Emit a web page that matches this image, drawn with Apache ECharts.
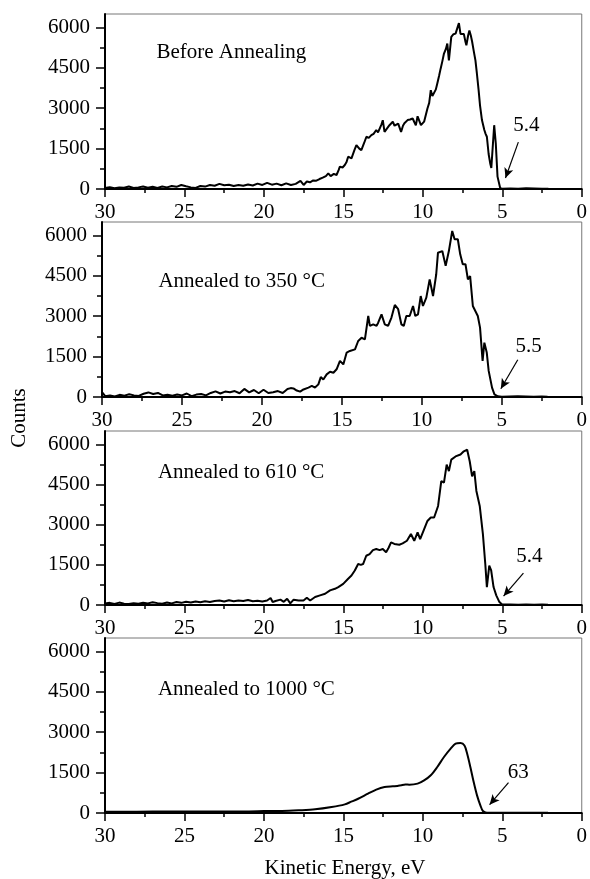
<!DOCTYPE html>
<html>
<head>
<meta charset="utf-8">
<script src="https://cdn.jsdelivr.net/npm/echarts@6/dist/echarts.min.js"></script>
<style>html,body{margin:0;padding:0;background:#fff;}#c{width:590px;height:879px;}</style>
</head>
<body>
<div id="c"></div>
<script>
// ---- data: [kinetic energy (eV), counts] ----
const beforeAnnealing = [[30,40],[29.7,70],[29.4,30],[29.1,60],[28.8,50],[28.5,90],[28.2,40],[27.9,60],[27.6,90],[27.3,50],[27.0,80],[26.7,40],[26.4,90],[26.1,60],[25.8,110],[25.5,80],[25.2,150],[24.9,100],[24.6,60],[24.3,40],[24.0,110],[23.7,90],[23.4,150],[23.1,120],[22.8,190],[22.5,140],[22.2,160],[21.9,110],[21.6,150],[21.3,120],[21.0,170],[20.7,130],[20.4,200],[20.1,150],[19.8,230],[19.5,160],[19.2,200],[18.9,140],[18.6,210],[18.3,150],[18.0,190],[17.7,300],[17.5,150],[17.3,280],[17.1,250],[16.9,320],[16.7,310],[16.5,370],[16.3,420],[16.1,480],[15.95,580],[15.8,480],[15.6,560],[15.43,520],[15.3,700],[15.22,830],[15.05,800],[14.91,890],[14.8,1000],[14.7,1200],[14.6,1150],[14.49,1140],[14.3,1450],[14.18,1630],[14.0,1500],[13.87,1445],[13.7,1700],[13.55,1940],[13.4,1900],[13.24,2000],[13.1,2050],[12.93,2190],[12.82,2100],[12.72,2060],[12.6,2400],[12.52,2556],[12.41,2120],[12.25,2250],[12.1,2370],[11.98,2300],[11.89,2500],[11.78,2350],[11.68,2370],[11.55,2430],[11.48,2430],[11.37,2120],[11.25,2350],[11.16,2440],[10.96,2560],[10.8,2580],[10.64,2620],[10.53,2480],[10.44,2370],[10.33,2700],[10.23,2740],[10.12,2370],[10.0,2430],[9.92,2500],[9.71,2990],[9.6,3200],[9.5,3670],[9.4,3450],[9.29,3480],[9.18,3700],[9.09,3920],[8.98,4200],[8.88,4470],[8.77,4750],[8.67,5030],[8.55,5200],[8.46,5400],[8.36,4780],[8.21,5650],[8.07,5750],[7.94,5770],[7.85,5800],[7.73,6160],[7.63,5760],[7.52,5800],[7.42,5760],[7.33,5500],[7.26,5335],[7.15,5700],[7.07,5890],[6.98,5700],[6.9,5480],[6.79,5100],[6.69,4780],[6.6,4300],[6.49,3670],[6.4,3100],[6.28,2560],[6.13,2190],[6.05,2050],[5.97,1940],[5.86,1300],[5.76,950],[5.69,780],[5.62,1400],[5.51,2370],[5.41,1700],[5.3,460],[5.13,25],[5.0,10],[4.5,20],[4.0,10],[3.5,30],[3.0,20],[2.5,10],[2.1,10]];

const annealed350 = [[30,185],[29.8,30],[29.5,60],[29.2,20],[28.9,80],[28.6,50],[28.3,100],[28.0,60],[27.7,40],[27.4,120],[27.1,170],[26.8,110],[26.5,150],[26.2,60],[25.9,80],[25.6,50],[25.3,90],[25.0,60],[24.7,130],[24.4,30],[24.1,90],[23.8,110],[23.5,60],[23.2,150],[22.9,210],[22.6,130],[22.3,200],[22.0,180],[21.7,220],[21.4,140],[21.1,300],[20.8,170],[20.5,260],[20.2,140],[19.9,270],[19.6,150],[19.3,180],[19.0,220],[18.7,150],[18.4,300],[18.2,330],[18.03,320],[17.82,240],[17.61,200],[17.4,280],[17.09,350],[16.88,410],[16.68,350],[16.47,470],[16.32,740],[16.16,650],[15.95,840],[15.74,940],[15.53,900],[15.33,1030],[15.12,1340],[14.91,1210],[14.7,1650],[14.5,1710],[14.18,1770],[13.98,2080],[13.77,2200],[13.56,2140],[13.35,3010],[13.25,2640],[13.04,2700],[12.83,2640],[12.73,2760],[12.52,3070],[12.32,2700],[12.11,2640],[11.9,2950],[11.69,3420],[11.48,3260],[11.28,2700],[11.13,2640],[10.97,3010],[10.76,3010],[10.55,3380],[10.41,3010],[10.24,3070],[10.07,3750],[9.93,3380],[9.72,3690],[9.51,4370],[9.3,3750],[9.1,4560],[8.99,5360],[8.72,5420],[8.51,4870],[8.31,5420],[8.1,6165],[7.95,5860],[7.75,5860],[7.6,5300],[7.44,4930],[7.27,4930],[7.12,4370],[6.98,4490],[6.81,3380],[6.5,3010],[6.36,2575],[6.2,1340],[6.09,2020],[5.94,1650],[5.82,970],[5.61,350],[5.46,100],[5.25,25],[5.0,10],[4.5,20],[4.0,30],[3.5,20],[3.0,10],[2.5,20],[2.14,10]];

const annealed610 = [[30,60],[29.7,80],[29.4,40],[29.1,90],[28.8,50],[28.5,40],[28.2,70],[27.9,50],[27.6,80],[27.3,60],[27.0,100],[26.7,70],[26.4,50],[26.1,90],[25.8,60],[25.5,110],[25.2,80],[24.9,120],[24.6,90],[24.3,130],[24.0,100],[23.7,140],[23.4,110],[23.1,150],[22.8,170],[22.5,130],[22.2,180],[21.9,140],[21.6,170],[21.3,150],[21.0,190],[20.7,140],[20.4,160],[20.1,130],[19.8,170],[19.58,260],[19.45,110],[19.27,150],[18.96,200],[18.75,120],[18.54,235],[18.34,60],[18.13,200],[17.82,170],[17.51,170],[17.3,270],[17.09,170],[16.78,300],[16.47,360],[16.15,420],[15.84,545],[15.53,605],[15.32,670],[15.01,790],[14.7,980],[14.49,1100],[14.28,1290],[14.07,1530],[13.9,1500],[13.76,1530],[13.56,1840],[13.35,1900],[13.14,2050],[12.93,2090],[12.72,2050],[12.52,2090],[12.31,1970],[12.16,2130],[12.0,2340],[11.79,2280],[11.48,2250],[11.27,2300],[11.0,2400],[10.75,2650],[10.54,2400],[10.33,2710],[10.17,2460],[9.96,2770],[9.71,3140],[9.5,3270],[9.29,3270],[9.04,3700],[8.84,4630],[8.67,4570],[8.5,5245],[8.36,5000],[8.21,5430],[7.94,5550],[7.63,5620],[7.42,5740],[7.21,5800],[7.05,5370],[6.9,4810],[6.76,5000],[6.63,4260],[6.42,3700],[6.22,2650],[6.07,1530],[5.97,670],[5.82,1470],[5.7,1290],[5.55,670],[5.38,360],[5.18,110],[5.03,25],[4.5,20],[4.0,10],[3.5,20],[3.0,10],[2.5,20],[2.12,10]];

const annealed1000 = [[30,50],[28,50],[26,55],[24,55],[22,60],[20.94,60],[20,70],[18.86,75],[17.82,100],[16.78,135],[15.74,220],[14.91,320],[14.5,420],[14.07,530],[13.45,720],[12.93,870],[12.41,965],[11.89,990],[11.6,1000],[11.37,1030],[11.1,1060],[10.85,1050],[10.33,1090],[9.92,1210],[9.5,1400],[9.09,1710],[8.67,2080],[8.25,2390],[7.94,2575],[7.63,2600],[7.38,2510],[7.21,2200],[7.01,1710],[6.8,1150],[6.59,655],[6.38,285],[6.22,75],[5.97,12],[5.0,10],[4.0,10],[3.0,10],[2.12,10]];

const panelTitles = ['Before Annealing', 'Annealed to 350 °C', 'Annealed to 610 °C', 'Annealed to 1000 °C'];
const titleAnchors = [[26.76, 5074], [26.47, 4293], [26.67, 4946], [26.67, 4578]];
const edgeLabels = ['5.4', '5.5', '5.4', '63'];
const edgeLabelAnchors = [[3.49, 2370], [3.32, 1872], [3.30, 1818], [3.99, 1496]];
const arrowStarts = [[3.99, 1740], [4.0, 1385], [3.67, 1187], [4.61, 1125]];
const arrowEnds = [[4.80, 407], [5.06, 308], [4.92, 334], [5.80, 308]];

const yTicks = [0, 1500, 3000, 4500, 6000];
const yMinorTicks = [750, 2250, 3750, 5250];
const xTicksStep = 5;
const xLabel = 'Kinetic Energy, eV';
const yLabel = 'Counts';

// ---- chart ----
const FONT = 'Liberation Serif, Times New Roman, serif';
const FS = 21;
const seriesData = [beforeAnnealing, annealed350, annealed610, annealed1000];
const rects = [
  {left: 105, right: 4, top: 14, height: 175},
  {left: 102, right: 7, top: 222, height: 175},
  {left: 105, right: 4, top: 431, height: 174},
  {left: 105, right: 4, top: 638, height: 175}
];
const N = rects.length;

const grid = rects.map(g => Object.assign({show: true, borderColor: '#777', borderWidth: 1, backgroundColor: 'transparent'}, g))
  .concat(rects.map(g => Object.assign({show: false}, g)));   // overlay grids carrying only the minor y ticks

const xAxis = rects.map((g, i) => ({
    type: 'value', gridIndex: i, min: 0, max: 30, interval: xTicksStep, inverse: true,
    axisLine: {show: true, onZero: false, lineStyle: {color: '#000', width: 2}},
    axisTick: {show: true, length: 8, lineStyle: {color: '#000', width: 1.5}},
    minorTick: {show: true, splitNumber: 2, length: 4, lineStyle: {color: '#000', width: 1.5}},
    axisLabel: {margin: 13, fontSize: FS, fontFamily: FONT, color: '#000', formatter: v => String(v)},
    splitLine: {show: false}
  })).concat(rects.map((g, i) => ({
    type: 'value', gridIndex: N + i, min: 0, max: 30, inverse: true, show: false,
    axisLine: {onZero: false}
  })));

const yAxis = rects.map((g, i) => ({
    type: 'value', gridIndex: i, min: 0, max: 6500, interval: 1500, position: 'left',
    axisLine: {show: true, onZero: false, lineStyle: {color: '#000', width: 2}},
    axisTick: {show: true, length: 9, customValues: yTicks, lineStyle: {color: '#000', width: 1.5}},
    axisLabel: {customValues: yTicks, margin: 15, fontSize: FS, fontFamily: FONT, color: '#000', formatter: v => String(v)},
    splitLine: {show: false}
  })).concat(rects.map((g, i) => ({
    type: 'value', gridIndex: N + i, min: 0, max: 6500, position: 'left',
    axisLine: {show: false, onZero: false},
    axisTick: {show: true, length: 5, customValues: yMinorTicks, lineStyle: {color: '#000', width: 1.5}},
    axisLabel: {show: false},
    splitLine: {show: false}
  })));

const option = {
  animation: false,
  backgroundColor: '#fff',
  grid, xAxis, yAxis,
  series: seriesData.map((d, i) => ({
    type: 'line', xAxisIndex: i, yAxisIndex: i, data: d,
    showSymbol: false, symbol: 'none', smooth: i === 3 ? 0.3 : false,
    lineStyle: {color: '#000', width: 2},
    markLine: {
      silent: true, symbol: ['none', 'arrow'], symbolSize: [7, 10],
      label: {show: false},
      lineStyle: {color: '#000', width: 1.2, type: 'solid'},
      data: [[{coord: arrowStarts[i]}, {coord: arrowEnds[i]}]]
    },
    markPoint: {
      silent: true, symbol: 'circle', symbolSize: 0,
      data: [
        {coord: titleAnchors[i], label: {show: true, position: 'right', distance: 0, formatter: panelTitles[i], fontSize: FS, fontFamily: FONT, color: '#000'}},
        {coord: edgeLabelAnchors[i], label: {show: true, position: 'inside', formatter: edgeLabels[i], fontSize: FS, fontFamily: FONT, color: '#000'}}
      ]
    }
  })),
  graphic: [
    {type: 'text', x: 19, y: 418, rotation: Math.PI / 2,
     style: {text: yLabel, fontSize: FS, fontFamily: FONT, fill: '#000', align: 'center', verticalAlign: 'middle'}},
    {type: 'text', x: 345, y: 868,
     style: {text: xLabel, fontSize: FS, fontFamily: FONT, fill: '#000', align: 'center', verticalAlign: 'middle'}}
  ]
};

const chart = echarts.init(document.getElementById('c'), null, {renderer: 'canvas'});
chart.setOption(option);
</script>
</body>
</html>
